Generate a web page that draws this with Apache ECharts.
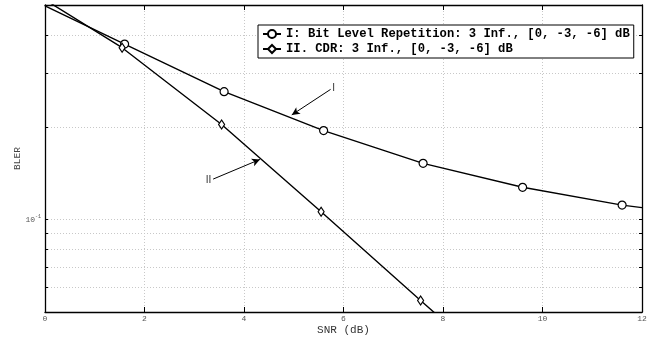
<!DOCTYPE html>
<html>
<head>
<meta charset="utf-8">
<script src="https://cdn.jsdelivr.net/npm/echarts@6/dist/echarts.min.js"></script>
<style>
  html, body { margin: 0; padding: 0; background: #fff; }
  #chart { width: 654px; height: 337px; }
</style>
</head>
<body>
<div id="chart"></div>
<script>
// series I: bit level repetition (circles)
const snrI = [0, 1.6, 3.6, 5.6, 7.6, 9.6, 11.6, 12]
const blerI = [0.497, 0.373, 0.261, 0.195, 0.1525, 0.1274, 0.1115, 0.1094]
// series II: CDR (diamonds)
const snrII = [0, 1.55, 3.55, 5.55, 7.55, 8]
const blerII = [0.52, 0.363, 0.204, 0.106, 0.0545, 0.047]

const xTicks = [0, 2, 4, 6, 8, 10, 12]
const yTicks = [0.05, 0.06, 0.07, 0.08, 0.09, 0.1, 0.2, 0.3, 0.4, 0.5]
const yLabels = [0.1]

const names = ['I: Bit Level Repetition: 3 Inf., [0, -3, -6] dB', 'II. CDR: 3 Inf., [0, -3, -6] dB']

// annotation arrows [from, to] in data units
const arrowI = [[5.74, 0.2655], [4.96, 0.2193]]
const arrowII = [[3.38, 0.1355], [4.32, 0.157]]

const mono = 'Liberation Mono'
const gridLine = { show: true, lineStyle: { color: '#c8c8c8', type: [1, 2], width: 1 } }
const boxLine = { show: true, onZero: false, lineStyle: { color: '#000', width: 1.3 } }

// endpoints only carry the line, no marker
const toData = (xs, ys) => xs.map((x, i) => {
    const last = i === xs.length - 1
    return (i === 0 || last) ? { value: [x, ys[i]], symbol: 'none' } : [x, ys[i]]
})

const arrowLine = (pair, text) => ({
    silent: true,
    symbol: ['none', 'arrow'],
    symbolSize: [6, 8],
    lineStyle: { color: '#000', width: 1, type: 'solid' },
    label: { show: true, position: 'start', formatter: text, fontFamily: 'Liberation Sans', fontSize: 10, color: '#333', distance: 2 },
    emphasis: { disabled: true },
    data: [[{ coord: pair[0] }, { coord: pair[1] }]]
})

var myChart = echarts.init(document.getElementById('chart'))

var option = {
    animation: false,
    grid: { left: 45, right: 12, top: 5, bottom: 25, containLabel: false, outerBoundsMode: 'none' },
    legend: {
        orient: 'vertical',
        left: 258,
        top: 25,
        backgroundColor: '#fff',
        borderColor: '#000',
        borderWidth: 1,
        borderRadius: 0,
        padding: [3, 4, 3, 4],
        itemGap: 3,
        itemWidth: 18,
        itemHeight: 10,
        textStyle: { fontFamily: mono, fontWeight: 'bold', fontSize: 12.2, color: '#000' },
        data: names
    },
    xAxis: [
        {
            type: 'value', min: 0, max: 12, interval: 2,
            name: 'SNR (dB)', nameLocation: 'middle', nameGap: 13, nameMoveOverlap: false,
            nameTextStyle: { fontFamily: mono, fontSize: 11, color: '#333', verticalAlign: 'top' },
            axisLine: boxLine,
            axisTick: { show: true, inside: true, length: 5, lineStyle: { color: '#000' } },
            axisLabel: { fontFamily: mono, fontSize: 8, color: '#555', margin: 3, customValues: xTicks },
            splitLine: gridLine
        },
        {
            type: 'value', min: 0, max: 12, interval: 2, position: 'top',
            axisLine: boxLine,
            axisTick: { show: true, inside: true, length: 5, lineStyle: { color: '#000' } },
            axisLabel: { show: false },
            splitLine: { show: false }
        }
    ],
    yAxis: [
        {
            type: 'log', logBase: 10, min: 0.05, max: 0.5,
            name: 'BLER', nameLocation: 'middle', nameGap: 23, nameMoveOverlap: false,
            nameTextStyle: { fontFamily: mono, fontSize: 9.5, color: '#444' },
            axisLine: boxLine,
            axisTick: { show: true, inside: true, length: 3, lineStyle: { color: '#000' }, customValues: yTicks },
            axisLabel: {
                margin: 4,
                customValues: yLabels,
                formatter: v => Math.abs(Math.log10(v) + 1) < 1e-6 ? '{b|10}{s|-1}' : '',
                rich: {
                    b: { fontFamily: mono, fontSize: 8, color: '#555' },
                    s: { fontFamily: mono, fontSize: 5, color: '#555', verticalAlign: 'top', padding: [0, 0, 5, 0] }
                }
            },
            splitLine: gridLine
        },
        {
            type: 'log', logBase: 10, min: 0.05, max: 0.5, position: 'right',
            axisLine: boxLine,
            axisTick: { show: true, inside: true, length: 3, lineStyle: { color: '#000' }, customValues: yTicks },
            axisLabel: { show: false },
            splitLine: { show: false }
        }
    ],
    series: [
        {
            name: names[0],
            type: 'line',
            data: toData(snrI, blerI),
            symbol: 'circle',
            symbolSize: 8,
            lineStyle: { color: '#000', width: 1.4 },
            itemStyle: { color: '#fff', borderColor: '#000', borderWidth: 1.2 },
            markLine: arrowLine(arrowI, 'I')
        },
        {
            name: names[1],
            type: 'line',
            data: toData(snrII, blerII),
            symbol: 'diamond',
            symbolSize: [6, 9],
            lineStyle: { color: '#000', width: 1.4 },
            itemStyle: { color: '#fff', borderColor: '#000', borderWidth: 1.2 },
            markLine: arrowLine(arrowII, 'II')
        }
    ]
}

myChart.setOption(option)
</script>
</body>
</html>
